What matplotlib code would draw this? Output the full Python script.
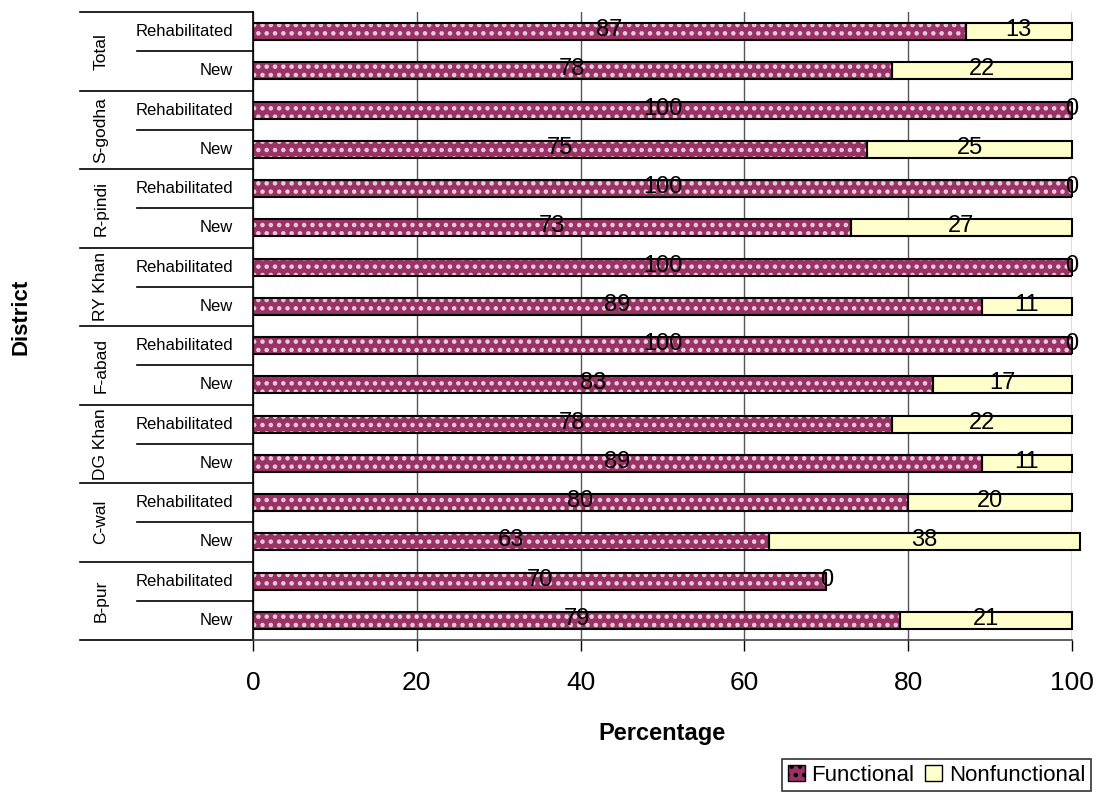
import numpy as np
import matplotlib
matplotlib.use('Agg')
import matplotlib.pyplot as plt
import matplotlib.transforms as mtrans
from matplotlib.patches import Patch

# data, bottom to top
districts = ['B-pur', 'C-wal', 'DG Khan', 'F-abad', 'RY Khan', 'R-pindi', 'S-godha', 'Total']
kinds = ['New', 'Rehabilitated']
functional = [79, 70, 63, 80, 89, 78, 83, 100, 89, 100, 73, 100, 75, 100, 78, 87]
nonfunctional = [21, 0, 38, 20, 11, 22, 17, 0, 11, 0, 27, 0, 25, 0, 22, 13]

plt.rcParams['font.family'] = ['Liberation Sans', 'DejaVu Sans']
plt.rcParams['hatch.linewidth'] = 2.0

fig = plt.figure(figsize=(10.98, 8.08), dpi=100)
ax = fig.add_axes([0.2304, 0.2079, 0.7459, 0.7772])

y = np.arange(len(functional))
h = 0.43
mag = '#993366'
yel = '#FFFFCC'

# functional bars: fill with white dots, then black outline
ax.barh(y, functional, height=h, color=mag, edgecolor='#eccbdc', hatch='..', linewidth=0, zorder=3)
ax.barh(y, functional, height=h, fill=False, edgecolor='black', linewidth=1.5, zorder=4)
ax.barh(y, nonfunctional, left=functional, height=h, color=yel, edgecolor='black',
        linewidth=1.5, zorder=3, clip_on=False)

for i in range(len(y)):
    f = functional[i]
    n = nonfunctional[i]
    ax.text(f / 2, y[i] + 0.04, str(f), ha='center', va='center', fontsize=17, zorder=5)
    ax.text(f + n / 2, y[i] + 0.04, str(n), ha='center', va='center', fontsize=17, zorder=5)

ax.set_xlim(0, 100)
ax.set_ylim(-0.5, len(y) - 0.5)
ax.set_xticks([0, 20, 40, 60, 80, 100])
ax.tick_params(axis='x', labelsize=19, length=8, pad=14, width=1)
ax.set_yticks([])
ax.grid(axis='x', color='#555555', linewidth=1, zorder=0)
ax.set_axisbelow(True)
for s in ['top', 'right']:
    ax.spines[s].set_visible(False)
ax.spines['left'].set_linewidth(1.2)
ax.spines['bottom'].set_linewidth(1.2)
ax.spines['bottom'].set_color('#444444')

# two-level category axis
tr = mtrans.blended_transform_factory(ax.transAxes, ax.transData)
x_out = -0.2112
x_in = -0.1416
for i in range(len(y)):
    ax.text(-0.0245, y[i], kinds[i % 2], transform=tr, ha='right', va='center', fontsize=12)
for j, d in enumerate(districts):
    ax.text(-0.186, 2 * j + 0.5, d, transform=tr, ha='center', va='center',
            rotation=90, fontsize=12.5)
    ax.plot([x_in, 0], [2 * j + 0.5, 2 * j + 0.5], transform=tr, color='black',
            linewidth=1.2, clip_on=False)
    ax.plot([x_out, 0], [2 * j - 0.5, 2 * j - 0.5], transform=tr, color='black',
            linewidth=1.2, clip_on=False)
ax.plot([x_out, 0], [len(y) - 0.5, len(y) - 0.5], transform=tr, color='black',
        linewidth=1.2, clip_on=False)

ax.set_xlabel('Percentage', fontsize=17, fontweight='bold', labelpad=20)
fig.text(0.019, 0.6077, 'District', rotation=90, ha='center', va='center',
         fontsize=16, fontweight='bold')

handles = [Patch(facecolor=mag, edgecolor='black', hatch='..', label='Functional'),
           Patch(facecolor=yel, edgecolor='black', label='Nonfunctional')]
leg = fig.legend(handles=handles, loc='center', bbox_to_anchor=(0.853, 0.0405), ncol=2,
                 fontsize=16, frameon=True, fancybox=False, edgecolor='black',
                 handlelength=0.75, handleheight=0.75, handletextpad=0.3,
                 columnspacing=0.5, borderpad=0.25)
leg.get_frame().set_linewidth(1.2)

fig.savefig('out.png', dpi=100)
